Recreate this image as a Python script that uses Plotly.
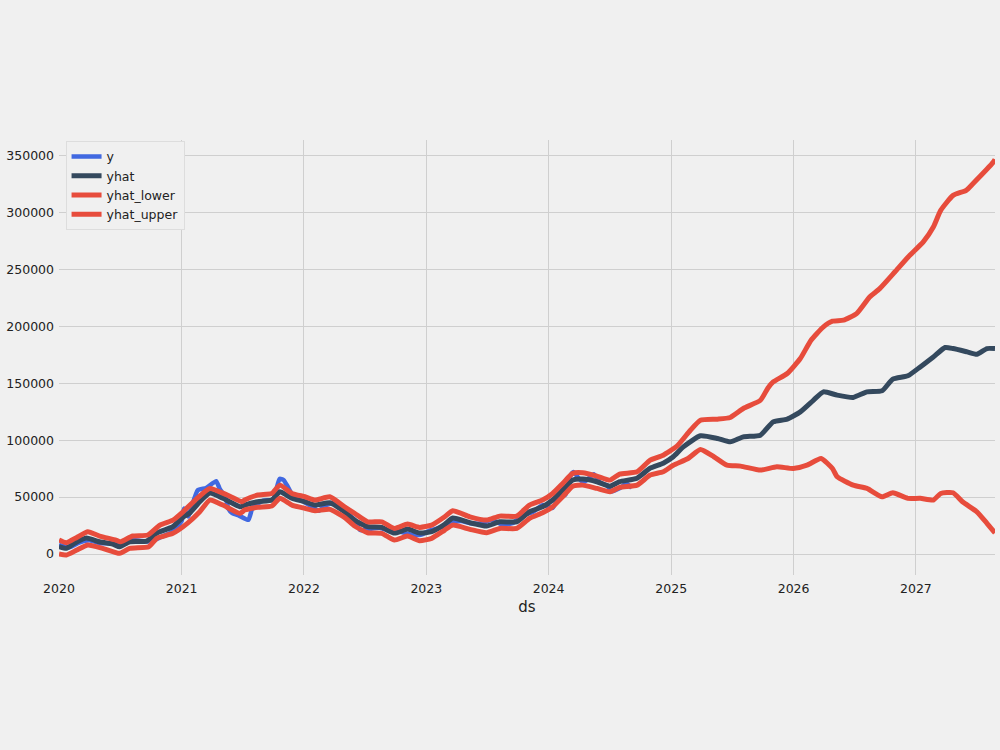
import plotly.graph_objects as go

# ---- data ----
y_dates = ["2020-01-01","2020-02-01","2020-03-01","2020-04-01","2020-05-01","2020-06-01","2020-07-01",
           "2020-08-01","2020-09-01","2020-10-01","2020-11-01","2020-12-01","2021-01-01","2021-01-08",
           "2021-01-20","2021-02-18","2021-03-15","2021-04-14","2021-04-25","2021-05-12","2021-05-20",
           "2021-06-01","2021-06-20","2021-07-19","2021-08-01","2021-09-01","2021-10-01","2021-10-20",
           "2021-11-01","2021-11-12","2021-12-01","2022-01-01","2022-02-15","2022-03-01","2022-04-01",
           "2022-05-01","2022-06-01","2022-06-18","2022-07-15","2022-08-15","2022-09-15","2022-10-15",
           "2022-11-10","2022-12-15","2023-01-15","2023-02-20","2023-03-25","2023-04-15","2023-05-15",
           "2023-06-15","2023-07-15","2023-08-15","2023-09-15","2023-10-15","2023-11-15","2023-12-15",
           "2024-01-13","2024-02-01","2024-02-20","2024-03-05","2024-03-15","2024-04-01","2024-04-15",
           "2024-05-15","2024-06-01","2024-06-25","2024-07-05","2024-08-01","2024-08-20","2024-09-05"]
y_vals = [8000,6000,10000,12000,9500,9500,9000,
          12500,11500,11000,15000,19000,29000,40000,
          33000,56000,58000,64000,57000,50000,40000,
          36000,34000,30000,41000,47000,48000,66000,
          65000,60000,50000,46000,38000,42000,45000,
          38000,30000,21000,22000,23000,20000,19500,
          17500,17000,21000,24000,28000,29000,27000,
          27000,30000,26000,27000,34000,37000,43000,
          40500,50000,52000,68000,72000,66000,63000,
          70000,63000,60000,55000,58000,62000,58000]

yhat_dates = ["2020-01-01","2020-01-23","2020-02-16","2020-03-23","2020-05-01","2020-06-09","2020-06-30",
              "2020-07-30","2020-09-19","2020-10-19","2020-12-06","2021-01-05","2021-01-25","2021-02-24",
              "2021-03-26","2021-05-04","2021-06-24","2021-07-08","2021-08-16","2021-09-27","2021-10-21",
              "2021-11-26","2022-01-04","2022-02-03","2022-03-19","2022-05-02","2022-06-01","2022-07-10",
              "2022-08-21","2022-09-28","2022-11-06","2022-12-12","2023-01-17","2023-02-25","2023-03-21",
              "2023-05-11","2023-06-30","2023-08-08","2023-09-28","2023-11-05","2023-12-14","2024-01-13",
              "2024-02-12","2024-03-13","2024-04-12","2024-05-24","2024-07-02","2024-07-31","2024-09-21",
              "2024-10-30","2024-12-08","2025-01-07","2025-02-06","2025-03-29","2025-05-19","2025-06-26",
              "2025-08-04","2025-09-24","2025-11-01","2025-12-13","2026-01-21","2026-03-01","2026-03-31",
              "2026-05-11","2026-06-28","2026-08-08","2026-09-22","2026-10-24","2026-12-08","2027-01-14",
              "2027-02-22","2027-03-29","2027-04-22","2027-06-03","2027-07-02","2027-08-01","2027-08-25"]
yhat_vals = [6500,5000,9500,14000,10800,8800,6400,
             10800,11400,18400,24000,32400,36000,45900,
             53500,49000,41500,43000,45900,47400,54700,
             49000,45900,43000,45000,37100,29800,24000,
             23400,18400,21900,18400,19600,26000,31600,
             27500,24600,28300,28300,37100,41500,47400,
             56100,65000,65800,63500,59600,63500,66600,
             75400,79800,85400,94100,103800,101500,98500,
             102900,104400,116000,118400,124800,135000,142400,
             139500,137500,142400,143300,153600,156500,164300,
             173000,181300,180400,177500,175400,180400,180400]

lower_dates = ["2020-01-01","2020-01-23","2020-02-23","2020-03-27","2020-05-10","2020-06-30","2020-07-30",
               "2020-09-25","2020-10-19","2020-12-06","2021-01-18","2021-02-24","2021-03-26","2021-05-04",
               "2021-06-24","2021-07-08","2021-08-16","2021-09-27","2021-10-21","2021-11-26","2022-01-04",
               "2022-02-03","2022-03-19","2022-05-02","2022-06-01","2022-07-10","2022-08-21","2022-09-28",
               "2022-11-06","2022-12-12","2023-01-17","2023-02-25","2023-03-21","2023-05-11","2023-06-30",
               "2023-08-08","2023-09-28","2023-11-05","2023-12-14","2024-01-13","2024-02-12","2024-03-13",
               "2024-04-12","2024-05-24","2024-07-02","2024-07-31","2024-09-21","2024-10-30","2024-12-08",
               "2025-01-07","2025-02-20","2025-03-29","2025-05-08","2025-06-16","2025-07-27","2025-09-24",
               "2025-11-12","2025-12-31","2026-02-10","2026-03-24","2026-04-27","2026-05-11","2026-06-28",
               "2026-08-08","2026-09-22","2026-10-24","2026-12-08","2027-01-14","2027-02-22","2027-03-16",
               "2027-04-22","2027-05-20","2027-07-02","2027-08-01","2027-08-25"]
lower_vals = [0,-900,3500,7900,5000,600,5000,
              6400,13800,18200,26900,37100,47400,43000,
              35700,38600,41000,42100,48900,43000,40100,
              38000,39200,32200,24600,18700,18200,12300,
              15800,11700,13800,21100,25400,21700,18700,
              22500,22500,31300,36200,41500,50300,59600,
              60500,57600,54700,58500,60500,69300,72200,
              78000,83900,91800,85400,78000,77200,73700,
              76600,75100,78000,83900,75100,67800,60500,
              57600,50300,53800,48900,48900,47400,53200,
              53800,45900,37100,27000,18500]

upper_dates = ["2020-01-01","2020-01-23","2020-02-23","2020-03-27","2020-05-01","2020-06-19","2020-07-03",
               "2020-08-08","2020-09-22","2020-10-28","2020-12-06","2021-01-05","2021-02-16","2021-03-26",
               "2021-05-17","2021-06-30","2021-07-08","2021-08-16","2021-09-27","2021-10-21","2021-11-26",
               "2022-01-04","2022-02-03","2022-03-19","2022-05-02","2022-06-01","2022-07-10","2022-08-21",
               "2022-09-28","2022-11-06","2022-12-12","2023-01-17","2023-02-25","2023-03-21","2023-05-11",
               "2023-06-30","2023-08-08","2023-09-28","2023-11-05","2023-12-14","2024-01-13","2024-02-12",
               "2024-03-13","2024-04-12","2024-05-24","2024-07-02","2024-07-31","2024-09-21","2024-10-30",
               "2024-12-08","2025-01-18","2025-02-27","2025-03-29","2025-05-19","2025-06-26","2025-08-04",
               "2025-09-24","2025-10-16","2025-11-01","2025-12-13","2026-01-21","2026-02-22","2026-03-31",
               "2026-04-27","2026-05-30","2026-07-08","2026-08-16","2026-09-15","2026-10-30","2026-12-09",
               "2027-01-23","2027-02-22","2027-03-16","2027-04-22","2027-05-31","2027-06-20","2027-08-20",
               "2027-08-25"]
upper_vals = [12300,9900,14600,19600,15800,12300,10800,
              15800,16700,25400,29800,37100,48900,57600,
              51800,45900,47400,51800,53200,60500,53200,
              50300,47400,50300,41500,35700,28300,28300,
              22500,26300,23400,25400,32700,38000,32700,
              29800,33300,33300,43000,47400,53200,62000,
              70800,71300,68400,64900,70200,72200,82500,
              86800,94700,108700,117500,118400,119900,127800,
              135000,145600,151100,158500,171600,187700,199400,
              204400,205300,211100,225700,233000,247600,260800,
              274000,287100,301700,314900,319300,325100,344100,
              346500]

BG = "#f0f0f0"
GRID = "#cfcfcf"
FONT = "DejaVu Sans"
LW = 5

fig = go.Figure()
fig.add_trace(go.Scatter(x=y_dates, y=y_vals, name="y", mode="lines",
                         line=dict(color="#4169e1", width=LW - 0.5, shape="spline", smoothing=0.5)))
fig.add_trace(go.Scatter(x=yhat_dates, y=yhat_vals, name="yhat", mode="lines",
                         line=dict(color="#34495e", width=LW, shape="spline", smoothing=0.5)))
fig.add_trace(go.Scatter(x=lower_dates, y=lower_vals, name="yhat_lower", mode="lines",
                         line=dict(color="#e74c3c", width=LW, shape="spline", smoothing=0.5)))
fig.add_trace(go.Scatter(x=upper_dates, y=upper_vals, name="yhat_upper", mode="lines",
                         line=dict(color="#e74c3c", width=LW, shape="spline", smoothing=0.5)))

fig.update_layout(
    width=1000, height=750,
    paper_bgcolor=BG, plot_bgcolor=BG,
    margin=dict(l=59, r=5, t=140, b=175),
    font=dict(family=FONT, size=12.5, color="#222222"),
    showlegend=True,
    legend=dict(x=0.007, y=0.998, xanchor="left", yanchor="top",
                bgcolor=BG, bordercolor="#dddddd", borderwidth=1,
                font=dict(family=FONT, size=12.5, color="#222222"),
                tracegroupgap=0, itemwidth=30),
    xaxis=dict(type="date", range=["2020-01-01", "2027-08-25"],
               dtick="M12", tick0="2020-01-01", tickformat="%Y",
               showgrid=True, gridcolor=GRID, gridwidth=1,
               zeroline=False, showline=False, ticks="",
               title=dict(text="ds", font=dict(family=FONT, size=15, color="#222222"), standoff=6),
               ticklabelstandoff=4),
    yaxis=dict(range=[-18400, 363500], dtick=50000, tick0=0, tickformat="d",
               showgrid=True, gridcolor=GRID, gridwidth=1,
               zeroline=False, showline=False, ticks="",
               ticklabelstandoff=4),
)

fig.write_html("out.html")
